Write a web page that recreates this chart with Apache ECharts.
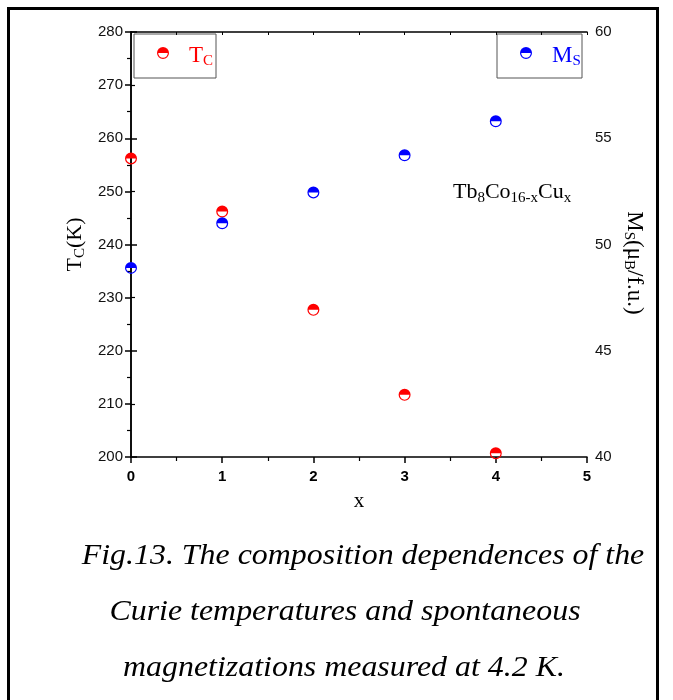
<!DOCTYPE html>
<html>
<head>
<meta charset="utf-8">
<script src="https://cdn.jsdelivr.net/npm/echarts@6/dist/echarts.min.js"></script>
<style>
  html, body { margin: 0; padding: 0; background: #fff; }
  #frame {
    position: absolute; left: 7px; top: 7px; width: 652px; height: 720px;
    border: 3px solid #000; box-sizing: border-box;
  }
  #chart { position: absolute; left: 0; top: 0; width: 673px; height: 700px; }
</style>
</head>
<body>
<div id="frame"></div>
<div id="chart"></div>
<script>
// composition x in Tb8Co16-xCux
const xValues = [0, 1, 2, 3, 4]
// Curie temperature, K (left axis)
const tcValues = [256.2, 246.2, 227.7, 211.7, 200.7]
// spontaneous magnetization, muB/f.u. (right axis)
const msValues = [48.9, 51.0, 52.45, 54.2, 55.8]
const xTicks = [0, 1, 2, 3, 4, 5]

const captionLines = [
  'Fig.13. The composition dependences of the',
  'Curie temperatures and spontaneous',
  'magnetizations measured at 4.2 K.'
]

// top half disk + bottom half ring
const halfSymbol = 'path://M0,50 A50,50 0 0 1 100,50 Z M100,50 A50,50 0 0 1 0,50 L10,50 A40,40 0 0 0 90,50 Z'

const serif = '"Liberation Serif", "DejaVu Serif", serif'
const sans = '"Liberation Sans", Arial, sans-serif'

let chart = echarts.init(document.getElementById('chart'))

function pairs (ys) {
  return xValues.map((x, i) => [x, ys[i]])
}

// legend icon: filled top half, outlined bottom half
function legendIcon (cx, cy, color) {
  return [
    { type: 'sector', shape: { cx: cx, cy: cy, r: 6, startAngle: Math.PI, endAngle: Math.PI * 2 }, style: { fill: color } },
    { type: 'arc', shape: { cx: cx, cy: cy, r: 5.4, startAngle: 0, endAngle: Math.PI }, style: { stroke: color, lineWidth: 1.2, fill: null } }
  ]
}

const subRich = (color, size, sub, pad) => ({
  a: { fontFamily: serif, fontSize: size, color: color },
  s: { fontFamily: serif, fontSize: sub, color: color, padding: [pad, 0, 0, 0] }
})

const tickStyle = { color: '#000', width: 1.5 }

chart.setOption({
  animation: false,
  grid: { left: 131, right: 86, top: 32, bottom: 243 },
  xAxis: [
    {
      type: 'value',
      min: 0,
      max: 5,
      interval: 1,
      name: 'x',
      nameLocation: 'middle',
      nameGap: 34,
      nameTextStyle: { fontFamily: serif, fontSize: 21, color: '#000' },
      axisLine: { lineStyle: tickStyle },
      axisTick: { inside: false, length: 6, lineStyle: tickStyle },
      minorTick: { show: true, splitNumber: 2, length: 4, lineStyle: { color: '#000', width: 1.2 } },
      axisLabel: {
        fontFamily: sans, fontSize: 15, fontWeight: 'bold', color: '#000', margin: 12,
        formatter: v => xTicks.indexOf(v) >= 0 ? String(v) : ''
      },
      splitLine: { show: false }
    },
    {
      type: 'value',
      position: 'top',
      min: 0,
      max: 5,
      interval: 0.5,
      axisLine: { show: true, lineStyle: tickStyle },
      axisTick: { inside: true, length: 3, lineStyle: { color: '#000', width: 1 } },
      axisLabel: { show: false },
      splitLine: { show: false }
    }
  ],
  yAxis: [
    {
      type: 'value',
      min: 200,
      max: 280,
      interval: 10,
      name: '{a|T}{s|C}{a|(K)}',
      nameLocation: 'middle',
      nameGap: 43,
      nameRotate: 90,
      nameTextStyle: { rich: subRich('#000', 22, 15, 9) },
      axisLine: { show: true, lineStyle: tickStyle },
      axisTick: { inside: false, length: 6, lineStyle: tickStyle },
      minorTick: { show: true, splitNumber: 2, length: 4, lineStyle: { color: '#000', width: 1.2 } },
      axisLabel: { fontFamily: sans, fontSize: 15, color: '#111', margin: 8 },
      splitLine: { show: false }
    },
    {
      type: 'value',
      position: 'right',
      min: 40,
      max: 60,
      interval: 5,
      axisLine: { show: true, lineStyle: tickStyle },
      axisTick: { inside: false, length: 6, lineStyle: tickStyle },
      minorTick: { show: true, splitNumber: 2, length: 4, lineStyle: { color: '#000', width: 1.2 } },
      axisLabel: { fontFamily: sans, fontSize: 15, color: '#111', margin: 8 },
      splitLine: { show: false }
    }
  ],
  series: [
    {
      name: 'Tc',
      type: 'scatter',
      xAxisIndex: 0,
      yAxisIndex: 0,
      symbol: halfSymbol,
      symbolSize: 12,
      itemStyle: { color: '#ff0000', opacity: 1 },
      data: pairs(tcValues)
    },
    {
      name: 'Ms',
      type: 'scatter',
      xAxisIndex: 0,
      yAxisIndex: 1,
      symbol: halfSymbol,
      symbolSize: 12,
      itemStyle: { color: '#0000ff', opacity: 1 },
      data: pairs(msValues)
    }
  ],
  graphic: [
    // legend boxes
    { type: 'rect', shape: { x: 134, y: 34, width: 82, height: 44 }, style: { fill: '#fff', stroke: '#555', lineWidth: 1 } },
    { type: 'rect', shape: { x: 497, y: 34, width: 85, height: 44 }, style: { fill: '#fff', stroke: '#555', lineWidth: 1 } },
    ...legendIcon(163, 53, '#ff0000'),
    ...legendIcon(526, 53, '#0000ff'),
    {
      type: 'text', x: 189, y: 42,
      style: {
        text: '{a|T}{s|C}',
        rich: {
          a: { fontFamily: serif, fontSize: 23, fill: '#ff0000' },
          s: { fontFamily: serif, fontSize: 15, fill: '#ff0000', padding: [12, 0, 0, 0] }
        }
      }
    },
    {
      type: 'text', x: 552, y: 42,
      style: {
        text: '{a|M}{s|S}',
        rich: {
          a: { fontFamily: serif, fontSize: 23, fill: '#0000ff' },
          s: { fontFamily: serif, fontSize: 15, fill: '#0000ff', padding: [12, 0, 0, 0] }
        }
      }
    },
    // right axis title
    {
      type: 'text', x: 634, y: 263, rotation: -Math.PI / 2,
      style: {
        text: '{a|M}{s|S}{a|(μ}{s|B}{a|/f.u.)}',
        align: 'center', verticalAlign: 'middle',
        rich: {
          a: { fontFamily: serif, fontSize: 23, fill: '#000' },
          s: { fontFamily: serif, fontSize: 15, fill: '#000', padding: [10, 0, 0, 0] }
        }
      }
    },
    // compound label
    {
      type: 'text', x: 453, y: 179,
      style: {
        text: '{a|Tb}{s|8}{a|Co}{s|16-x}{a|Cu}{s|x}',
        rich: {
          a: { fontFamily: serif, fontSize: 22, fill: '#000' },
          s: { fontFamily: serif, fontSize: 15, fill: '#000', padding: [12, 0, 0, 0] }
        }
      }
    },
    // caption
    {
      type: 'text', x: 363, y: 556, scaleX: 1.1,
      style: { text: captionLines[0], fontFamily: serif, fontStyle: 'italic', fontSize: 29, fill: '#000', align: 'center', verticalAlign: 'middle' }
    },
    {
      type: 'text', x: 345, y: 612, scaleX: 1.1,
      style: { text: captionLines[1], fontFamily: serif, fontStyle: 'italic', fontSize: 29, fill: '#000', align: 'center', verticalAlign: 'middle' }
    },
    {
      type: 'text', x: 344, y: 668, scaleX: 1.1,
      style: { text: captionLines[2], fontFamily: serif, fontStyle: 'italic', fontSize: 29, fill: '#000', align: 'center', verticalAlign: 'middle' }
    }
  ]
})
</script>
</body>
</html>
